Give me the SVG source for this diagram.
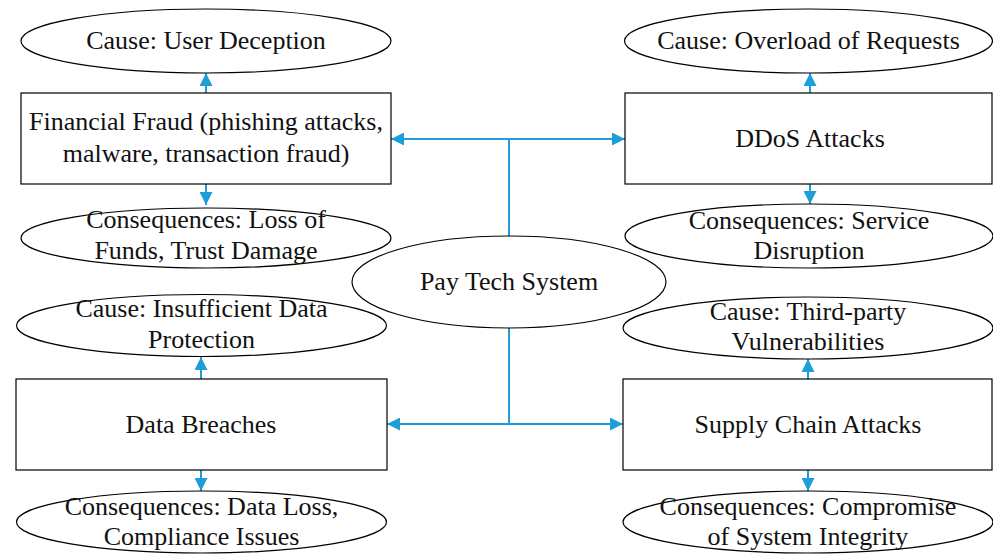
<svg xmlns="http://www.w3.org/2000/svg" width="993" height="554" viewBox="0 0 993 554">
<style>
.shape{fill:none;stroke:#000;stroke-width:1.2}
.t{font-family:"Liberation Serif","Times New Roman",serif;font-size:26px;fill:#111;text-anchor:middle}
.c{fill:none;stroke:#1E9ED9;stroke-width:2}
</style>
<defs>
<marker id="ah" markerUnits="userSpaceOnUse" markerWidth="13" markerHeight="13" viewBox="0 0 12 12" refX="12" refY="6" orient="auto">
<path d="M0,0 L12,6 L0,12 Z" fill="#1E9ED9"/>
</marker>
</defs>
<rect width="993" height="554" fill="#fff"/>
<g id="connectors">
<path class="c" d="M509,236 V139 H391" marker-end="url(#ah)"/>
<path class="c" d="M509,139 H625" marker-end="url(#ah)"/>
<path class="c" d="M509,328 V424 H387" marker-end="url(#ah)"/>
<path class="c" d="M509,424 H623" marker-end="url(#ah)"/>
<path class="c" d="M206,93 V73" marker-end="url(#ah)"/>
<path class="c" d="M206,184 V205" marker-end="url(#ah)"/>
<path class="c" d="M810,93 V73" marker-end="url(#ah)"/>
<path class="c" d="M810,184 V204" marker-end="url(#ah)"/>
<path class="c" d="M201,379 V357" marker-end="url(#ah)"/>
<path class="c" d="M201,470 V491" marker-end="url(#ah)"/>
<path class="c" d="M808,379 V359" marker-end="url(#ah)"/>
<path class="c" d="M808,470 V491" marker-end="url(#ah)"/>
</g>
<g id="center">
<ellipse class="shape" cx="509" cy="282" rx="157" ry="46"/>
<text class="t" x="509" y="290">Pay Tech System</text>
</g>
<g id="fraud">
<rect class="shape" x="21" y="93" width="370" height="91"/>
<text class="t" x="206" y="130">Financial Fraud (phishing attacks,</text>
<text class="t" x="206" y="162">malware, transaction fraud)</text>
</g>
<g id="fraud-cause">
<ellipse class="shape" cx="206" cy="41" rx="185" ry="32"/>
<text class="t" x="206" y="49">Cause: User Deception</text>
</g>
<g id="fraud-cons">
<ellipse class="shape" cx="206" cy="238" rx="185" ry="30"/>
<text class="t" x="206" y="228">Consequences: Loss of</text>
<text class="t" x="206" y="259">Funds, Trust Damage</text>
</g>
<g id="ddos">
<rect class="shape" x="625" y="93" width="367" height="91"/>
<text class="t" x="810" y="147">DDoS Attacks</text>
</g>
<g id="ddos-cause">
<ellipse class="shape" cx="808.5" cy="41" rx="184" ry="32"/>
<text class="t" x="808.5" y="49">Cause: Overload of Requests</text>
</g>
<g id="ddos-cons">
<ellipse class="shape" cx="809" cy="236" rx="184" ry="32"/>
<text class="t" x="809" y="229">Consequences: Service</text>
<text class="t" x="809" y="259">Disruption</text>
</g>
<g id="breach">
<rect class="shape" x="16" y="379" width="371" height="91"/>
<text class="t" x="201" y="433">Data Breaches</text>
</g>
<g id="breach-cause">
<ellipse class="shape" cx="201.5" cy="325.5" rx="185" ry="31"/>
<text class="t" x="201.5" y="317">Cause: Insufficient Data</text>
<text class="t" x="201.5" y="348">Protection</text>
</g>
<g id="breach-cons">
<ellipse class="shape" cx="201.5" cy="522" rx="185" ry="31"/>
<text class="t" x="201.5" y="515">Consequences: Data Loss,</text>
<text class="t" x="201.5" y="545">Compliance Issues</text>
</g>
<g id="supply">
<rect class="shape" x="623" y="379" width="369" height="91"/>
<text class="t" x="808" y="433">Supply Chain Attacks</text>
</g>
<g id="supply-cause">
<ellipse class="shape" cx="808" cy="328" rx="185" ry="31"/>
<text class="t" x="808" y="320">Cause: Third-party</text>
<text class="t" x="808" y="350">Vulnerabilities</text>
</g>
<g id="supply-cons">
<ellipse class="shape" cx="808" cy="522" rx="185" ry="31"/>
<text class="t" x="808" y="515">Consequences: Compromise</text>
<text class="t" x="808" y="545">of System Integrity</text>
</g>
</svg>
